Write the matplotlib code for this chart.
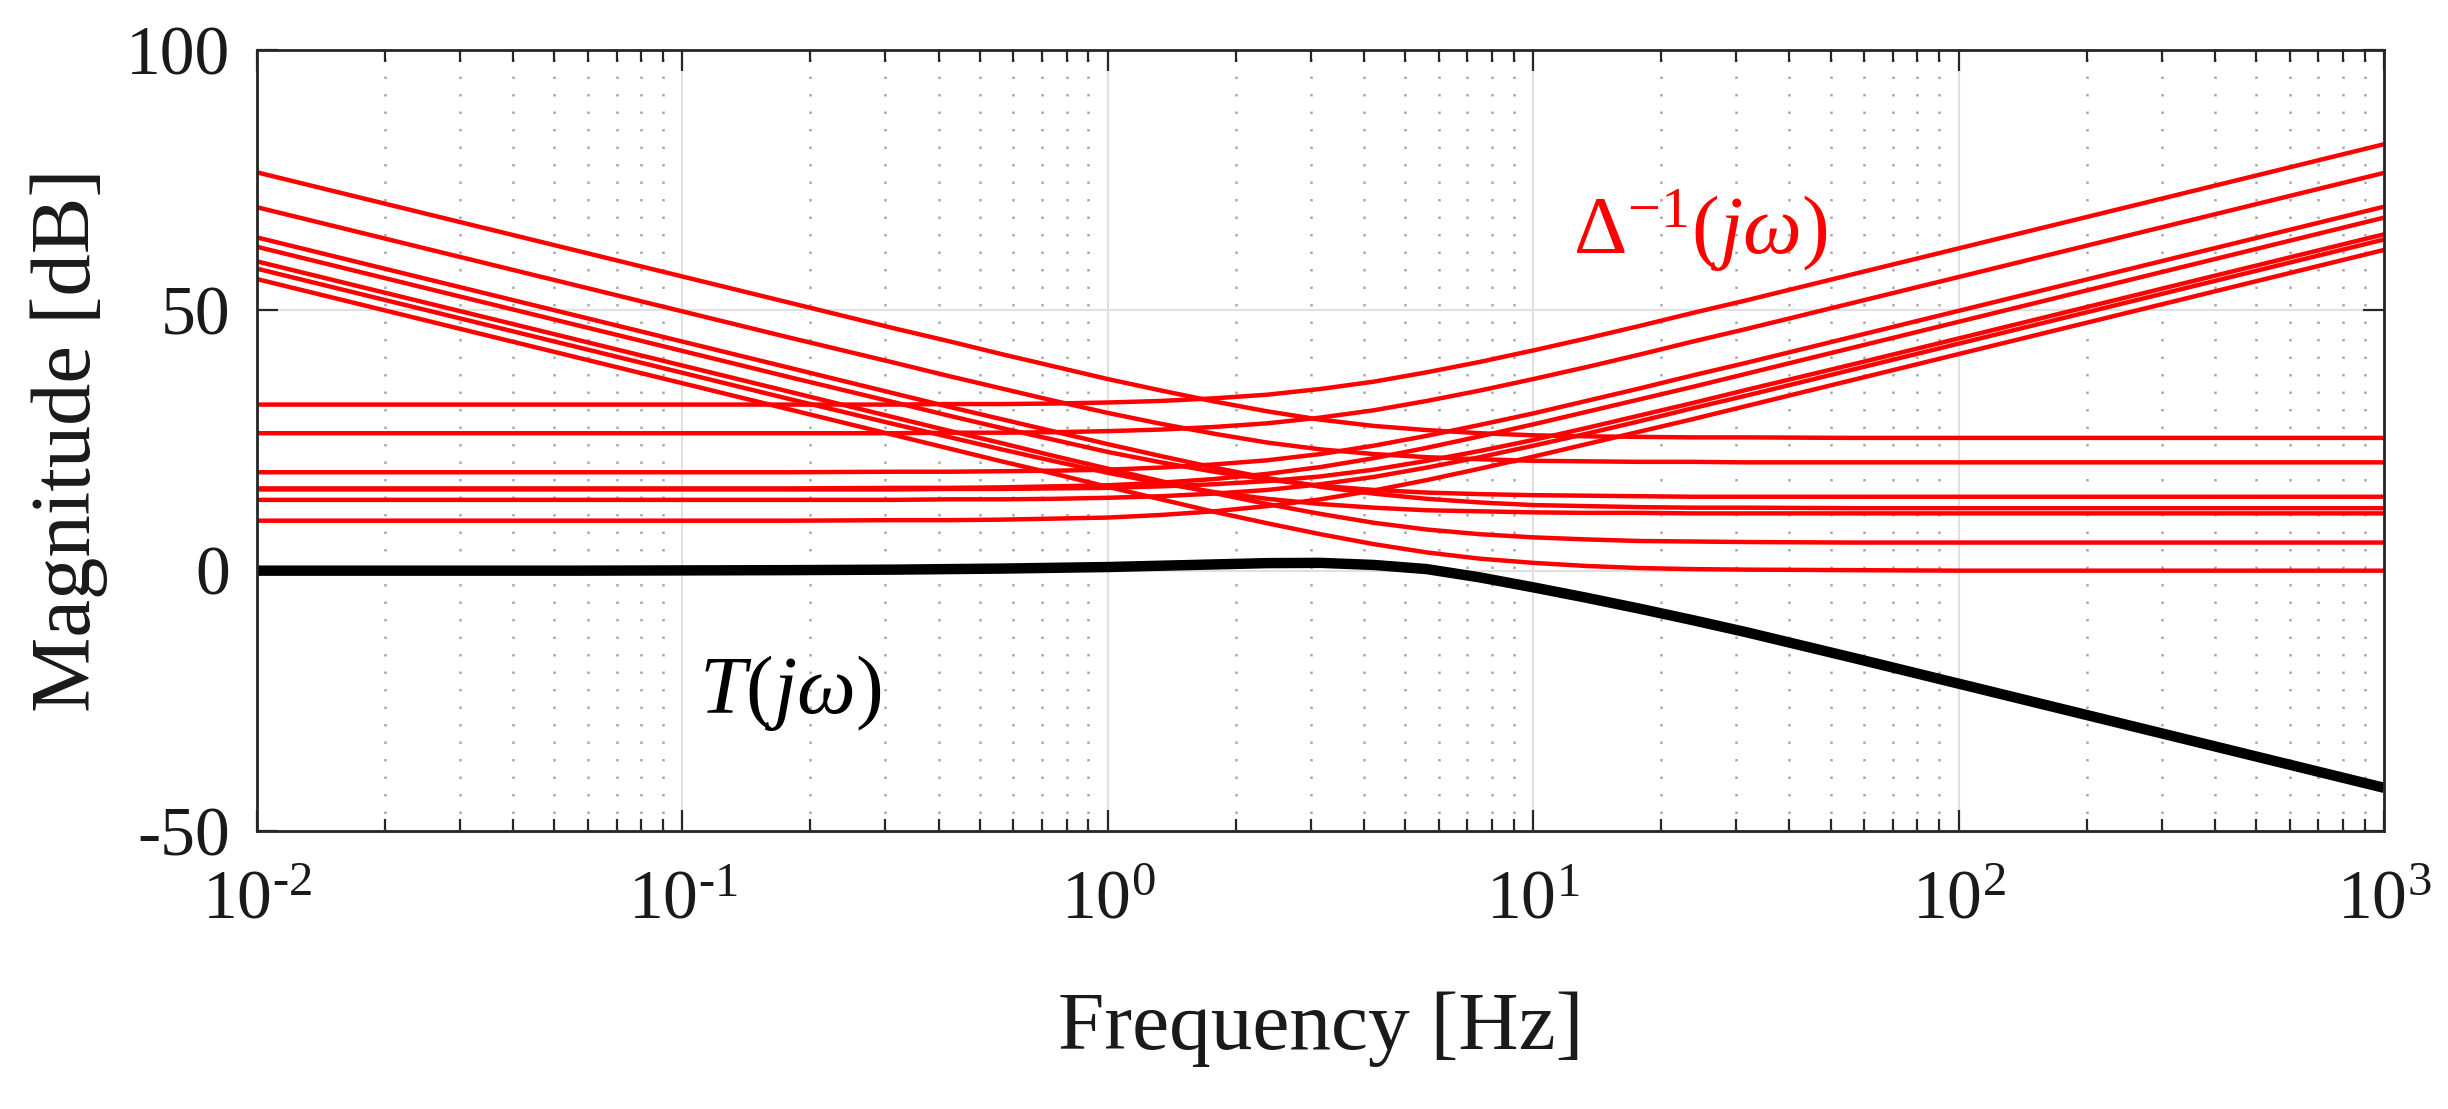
import numpy as np
import matplotlib
matplotlib.use('Agg')
import matplotlib.pyplot as plt
from matplotlib.ticker import LogLocator, NullFormatter, FuncFormatter

plt.rcParams['font.family'] = ['Liberation Serif', 'DejaVu Serif']
plt.rcParams['mathtext.fontset'] = 'custom'
plt.rcParams['mathtext.rm'] = 'Liberation Serif'
plt.rcParams['mathtext.it'] = 'Liberation Serif:italic'
plt.rcParams['mathtext.bf'] = 'Liberation Serif:bold'
plt.rcParams['axes.unicode_minus'] = False

# frequency points (Hz), finer around the corners
freq_hz = [0.01, 0.01778, 0.03162, 0.05623, 0.1, 0.1778, 0.3162,
           0.4217, 0.5623, 0.7499, 1.0, 1.334, 1.778, 2.371, 3.162,
           4.217, 5.623, 7.499, 10.0, 13.34, 17.78, 23.71, 31.62,
           56.23, 100.0, 177.8, 316.2, 562.3, 1000.0]

# Delta^-1 curves falling at low frequency (dB)
fall_1 = [76.5, 71.5, 66.5, 61.5, 56.5, 51.5, 46.5,
          44.1, 41.6, 39.2, 36.8, 34.6, 32.5, 30.6, 29.0,
          27.8, 27.0, 26.4, 26.0, 25.8, 25.7, 25.6, 25.6,
          25.5, 25.5, 25.5, 25.5, 25.5, 25.5]
fall_2 = [69.8, 64.8, 59.8, 54.8, 49.8, 44.8, 39.9,
          37.4, 35.0, 32.6, 30.3, 28.2, 26.3, 24.6, 23.3,
          22.4, 21.8, 21.4, 21.1, 21.0, 20.9, 20.9, 20.8,
          20.8, 20.8, 20.8, 20.8, 20.8, 20.8]
fall_3 = [64.0, 59.0, 54.0, 49.0, 44.0, 39.0, 34.0,
          31.5, 29.1, 26.7, 24.3, 22.0, 19.8, 17.8, 16.1,
          14.8, 13.8, 13.1, 12.6, 12.4, 12.2, 12.1, 12.1,
          12.0, 12.0, 12.0, 12.0, 12.0, 12.0]
fall_4 = [62.2, 57.2, 52.2, 47.2, 42.2, 37.2, 32.3,
          29.8, 27.4, 25.1, 22.8, 20.8, 19.0, 17.5, 16.3,
          15.5, 15.0, 14.7, 14.5, 14.4, 14.3, 14.2, 14.2,
          14.2, 14.2, 14.2, 14.2, 14.2, 14.2]
fall_5 = [58.0, 53.0, 48.0, 43.0, 38.0, 33.0, 28.1,
          25.7, 23.3, 21.0, 18.8, 16.8, 15.1, 13.8, 12.8,
          12.1, 11.6, 11.4, 11.2, 11.1, 11.1, 11.0, 11.0,
          11.0, 11.0, 11.0, 11.0, 11.0, 11.0]
fall_6 = [59.4, 54.4, 49.4, 44.4, 39.4, 34.4, 29.4,
          26.9, 24.5, 22.0, 19.6, 17.2, 14.9, 12.8, 10.9,
          9.2, 7.9, 7.0, 6.4, 6.0, 5.7, 5.6, 5.5,
          5.4, 5.4, 5.4, 5.4, 5.4, 5.4]
fall_7 = [56.0, 51.0, 46.0, 41.0, 36.0, 31.0, 26.0,
          23.5, 21.0, 18.6, 16.1, 13.7, 11.3, 9.1, 7.0,
          5.1, 3.5, 2.3, 1.5, 0.9, 0.5, 0.3, 0.2,
          0.1, 0.0, 0.0, 0.0, 0.0, 0.0]

# Delta^-1 curves rising at high frequency (dB)
rise_1 = [31.9, 31.9, 31.9, 31.9, 31.9, 31.9, 31.9,
          32.0, 32.0, 32.1, 32.3, 32.6, 33.1, 33.8, 34.9,
          36.3, 38.1, 40.1, 42.3, 44.6, 47.0, 49.5, 51.9,
          56.9, 61.9, 66.9, 71.9, 76.9, 81.9]
rise_2 = [26.4, 26.4, 26.4, 26.4, 26.4, 26.4, 26.4,
          26.5, 26.5, 26.6, 26.8, 27.1, 27.6, 28.3, 29.4,
          30.8, 32.6, 34.6, 36.8, 39.1, 41.5, 44.0, 46.4,
          51.4, 56.4, 61.4, 66.4, 71.4, 76.4]
rise_3 = [18.9, 18.9, 18.9, 18.9, 18.9, 18.9, 19.0,
          19.0, 19.1, 19.2, 19.4, 19.8, 20.4, 21.2, 22.4,
          24.0, 25.9, 28.0, 30.2, 32.6, 35.0, 37.5, 39.9,
          44.9, 49.9, 54.9, 59.9, 64.9, 69.9]
rise_4 = [15.8, 15.8, 15.8, 15.8, 15.8, 15.8, 15.9,
          15.9, 16.0, 16.2, 16.4, 16.9, 17.6, 18.6, 19.9,
          21.6, 23.6, 25.8, 28.1, 30.5, 32.9, 35.3, 37.8,
          42.8, 47.8, 52.8, 57.8, 62.8, 67.8]
rise_5 = [15.6, 15.6, 15.6, 15.6, 15.6, 15.6, 15.6,
          15.7, 15.7, 15.8, 15.9, 16.2, 16.6, 17.2, 18.1,
          19.4, 21.1, 23.0, 25.1, 27.4, 29.8, 32.2, 34.7,
          39.6, 44.6, 49.6, 54.6, 59.6, 64.6]
rise_6 = [13.6, 13.6, 13.6, 13.6, 13.6, 13.6, 13.6,
          13.7, 13.7, 13.8, 14.0, 14.3, 14.8, 15.5, 16.6,
          18.0, 19.8, 21.8, 24.0, 26.3, 28.7, 31.2, 33.6,
          38.6, 43.6, 48.6, 53.6, 58.6, 63.6]
rise_7 = [9.6, 9.6, 9.6, 9.6, 9.6, 9.6, 9.7,
          9.7, 9.8, 10.0, 10.2, 10.7, 11.4, 12.4, 13.7,
          15.4, 17.4, 19.6, 21.9, 24.3, 26.7, 29.1, 31.6,
          36.6, 41.6, 46.6, 51.6, 56.6, 61.6]

# T(jw) (dB)
t_mag_db = [0.0, 0.0, 0.0, 0.0, 0.05, 0.1, 0.2,
            0.3, 0.4, 0.55, 0.7, 0.95, 1.2, 1.45, 1.5,
            1.1, 0.3, -1.3, -3.2, -5.2, -7.3, -9.5, -11.8,
            -16.7, -21.7, -26.7, -31.7, -36.7, -41.7]

delta_curves = [fall_1, fall_2, fall_3, fall_4, fall_5, fall_6, fall_7,
                rise_1, rise_2, rise_3, rise_4, rise_5, rise_6, rise_7]


def decade_label(v, pos):
    e = int(round(np.log10(v)))
    s = str(e).replace('-', '\u2010')
    return r'$\mathdefault{10^{%s}}$' % s


fig = plt.figure(figsize=(24.48, 11.09), dpi=100)
ax = fig.add_axes([257/2448, 1 - 831/1109, 2127/2448, 781/1109])

for curve in delta_curves:
    ax.plot(freq_hz, curve, color='#ff0000', lw=3.2, solid_capstyle='butt')
ax.plot(freq_hz, t_mag_db, color='black', lw=7.5, solid_capstyle='butt')

ax.set_xscale('log')
ax.set_xlim(0.01, 1000)
ax.set_ylim(-50, 100)
ax.set_yticks([-50, 0, 50, 100])
ax.xaxis.set_major_locator(LogLocator(base=10, numticks=10))
ax.xaxis.set_major_formatter(FuncFormatter(decade_label))
ax.xaxis.set_minor_locator(LogLocator(base=10, subs=np.arange(2, 10), numticks=60))
ax.xaxis.set_minor_formatter(NullFormatter())

ax.set_axisbelow(True)
ax.grid(which='major', color='#e0e0e0', lw=1.5, ls='-')
ax.grid(which='minor', axis='x', color='#a8a8a8', lw=1.8, ls=(0, (1, 6)))

for s in ax.spines.values():
    s.set_color('#262626')
    s.set_linewidth(2.0)

ax.tick_params(which='both', direction='in', top=True, right=True,
               color='#262626', labelcolor='#1a1a1a')
ax.tick_params(which='major', length=15, width=1.6, labelsize=50)
ax.tick_params(which='minor', length=8.5, width=1.6)
ax.tick_params(axis='x', which='major', pad=28)
ax.tick_params(axis='y', which='major', pad=19)

ax.set_xlabel('Frequency [Hz]', fontsize=60, color='#1a1a1a')
ax.set_ylabel('Magnitude [dB]', fontsize=61, color='#1a1a1a')
ax.xaxis.set_label_coords(0.5, -0.205)
ax.yaxis.set_label_coords(-0.070, 0.5)

ax.text(24.7, 65.3, r'$\Delta^{-1}(j\omega)$', color='#ff0000', fontsize=60,
        ha='center', va='center')
ax.text(0.179, -23.5, r'$T(j\omega)$', color='black', fontsize=60,
        ha='center', va='center')

fig.savefig('out.png', dpi=100)
